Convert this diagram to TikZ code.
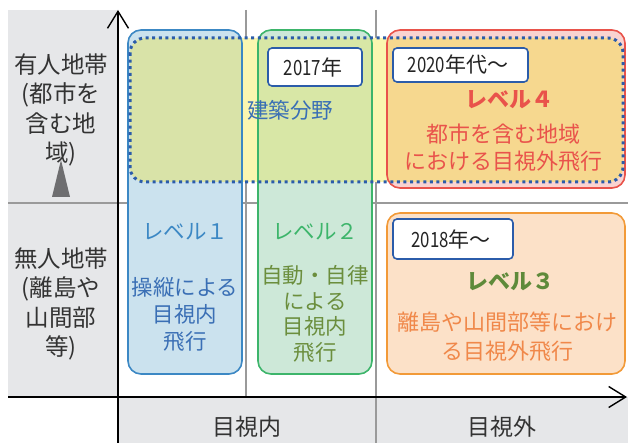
\documentclass[tikz,border=0pt]{standalone}
\usepackage{fontspec}
\newfontfamily\cjk{Noto Sans CJK JP}
\newfontfamily\cjkn[FakeStretch=0.8]{Noto Sans CJK JP}
\usetikzlibrary{arrows.meta}
\definecolor{panelgray}{HTML}{E6E7E9}
\definecolor{gridgray}{HTML}{9A9A9A}
\definecolor{labeltext}{HTML}{333333}
\definecolor{bluefill}{HTML}{CBE2EE}
\definecolor{blueline}{HTML}{3C88C4}
\definecolor{bluetext}{HTML}{3A6FB5}
\definecolor{greenfill}{HTML}{CDE8D8}
\definecolor{greenline}{HTML}{3DB56B}
\definecolor{olivetext}{HTML}{6B8E3D}
\definecolor{olivebold}{HTML}{5F8A3A}
\definecolor{redfill}{HTML}{F9D3D0}
\definecolor{redline}{HTML}{E9534B}
\definecolor{orangefill}{HTML}{FCE1C8}
\definecolor{orangeline}{HTML}{F29A38}
\definecolor{orangetext}{HTML}{F0884A}
\definecolor{bandyellow}{HTML}{FAF6B0}
\definecolor{bandblue}{HTML}{D9E3A8}
\definecolor{bandgreen}{HTML}{D8E7A6}
\definecolor{bandred}{HTML}{F6D88F}
\definecolor{dotblue}{HTML}{2B5CAA}
\definecolor{tribg}{HTML}{6E6E70}
\tikzset{
  levelbox/.style={rounded corners=13pt, line width=1.6pt},
  band/.style={rounded corners=15pt},
  datebox/.style={draw=dotblue, fill=white, line width=1.6pt, rounded corners=4pt},
  datetext/.style={font=\cjk\fontsize{21}{24}\selectfont, text=labeltext!70!black, inner sep=0pt},
  boxtext/.style={font=\cjk\fontsize{21.5}{27}\selectfont, align=center},
  sidelabel/.style={font=\cjk\fontsize{23.5}{29.5}\selectfont, align=center, text=labeltext},
  gridline/.style={draw=gridgray, line width=1.3pt},
  axis/.style={draw=black, line width=1.6pt, -{Straight Barb[length=17pt,width=21pt,line width=1.4pt]}}
}
\begin{document}
\begin{tikzpicture}[x=1pt,y=-1pt]
\useasboundingbox (0,0) rectangle (628,443);
% panels
\fill[panelgray] (8,10) rectangle (118,397);
\fill[panelgray] (118,397) rectangle (628,443);
% grid lines
\coordinate (g1a) at (246,10); \coordinate (g1b) at (246,397);
\coordinate (g2a) at (376,10); \coordinate (g2b) at (376,443);
\coordinate (h1a) at (8,203); \coordinate (h1b) at (628,203);
\draw[gridline] (g1a) -- (g1b);
\draw[gridline] (g2a) -- (g2b);
\draw[gridline] (h1a) -- (h1b);
% level box fills
\fill[levelbox, bluefill] (128,30) rectangle (242,374);
\fill[levelbox, greenfill] (258,30) rectangle (372,374);
\fill[levelbox, redfill] (387,30) rectangle (625,188);
\fill[levelbox, orangefill] (387,213) rectangle (625,374);
% band fill and overlaps
\fill[band, bandyellow] (130,38) rectangle (623,182);
\begin{scope}
\clip[rounded corners=13pt] (128,30) rectangle (242,374);
\fill[band, bandblue] (130,38) rectangle (623,182);
\end{scope}
\begin{scope}
\clip[rounded corners=13pt] (258,30) rectangle (372,374);
\fill[band, bandgreen] (130,38) rectangle (623,182);
\end{scope}
\begin{scope}
\clip[rounded corners=13pt] (387,30) rectangle (625,188);
\fill[band, bandred] (130,38) rectangle (623,182);
\end{scope}
% level box borders
\draw[levelbox, blueline] (128,30) rectangle (242,374);
\draw[levelbox, greenline] (258,30) rectangle (372,374);
\draw[levelbox, redline] (387,30) rectangle (625,188);
\draw[levelbox, orangeline] (387,213) rectangle (625,374);
% band border
\draw[dotblue, line width=3pt, dash pattern=on 3pt off 3.6pt, band] (130,38) rectangle (623,182);
% date boxes
\draw[datebox] (268,48) rectangle (362,86);
\node[datetext] (d2017) at (313,67) {{\cjkn 2017}年};
\draw[datebox] (393,48) rectangle (528,82);
\node[datetext] (d2020) at (458,65) {{\cjkn 2020}年代～};
\draw[datebox] (393,219) rectangle (513,259);
\node[datetext] (d2018) at (451,239) {{\cjkn 2018}年～};
% band text
\node[boxtext, text=bluetext] (kenchiku) at (290,110) {建築分野};
% level 4
\node[boxtext, text=redline, font=\cjk\bfseries\fontsize{22}{24}\selectfont] (lv4) at (509,100) {レベル４};
\node[boxtext, text=redline, font=\cjk\fontsize{22}{27}\selectfont] (lv4t) at (503,148) {都市を含む地域\\における目視外飛行};
% level 1
\node[boxtext, text=blueline] (lv1) at (185,232) {レベル１};
\node[boxtext, text=bluetext] (lv1t) at (185,314) {操縦による\\目視内\\飛行};
% level 2
\node[boxtext, text=olivetext, font=\cjk\fontsize{21.5}{25.5}\selectfont] (lv2t) at (315,314) {自動・自律\\による\\目視内\\飛行};
\node[boxtext, text=greenline] (lv2) at (315,232) {レベル２};
% level 3
\node[boxtext, text=olivebold, font=\cjk\bfseries\fontsize{22}{24}\selectfont] (lv3) at (510,282) {レベル３};
\node[boxtext, text=orangetext, font=\cjk\fontsize{22}{29}\selectfont] (lv3t) at (507,337) {離島や山間部等におけ\\る目視外飛行};
% side labels
\node[sidelabel] (yujin) at (61,110) {有人地帯\\(都市を\\含む地\\域)};
\node[sidelabel] (mujin) at (61,304) {無人地帯\\(離島や\\山間部\\等)};
\fill[tribg] (61,160) -- (70,197) -- (52,197) -- cycle;
% bottom labels
\node[sidelabel, font=\cjk\fontsize{23}{26}\selectfont] (mokushinai) at (247,427) {目視内};
\node[sidelabel, font=\cjk\fontsize{23}{26}\selectfont] (mokushigai) at (502,427) {目視外};
% axes
\coordinate (vbot) at (118,443); \coordinate (vtop) at (118,10);
\coordinate (hleft) at (8,397); \coordinate (hright) at (627,397);
\draw[axis] (vbot) -- (vtop);
\draw[axis] (hleft) -- (hright);
\end{tikzpicture}
\end{document}
